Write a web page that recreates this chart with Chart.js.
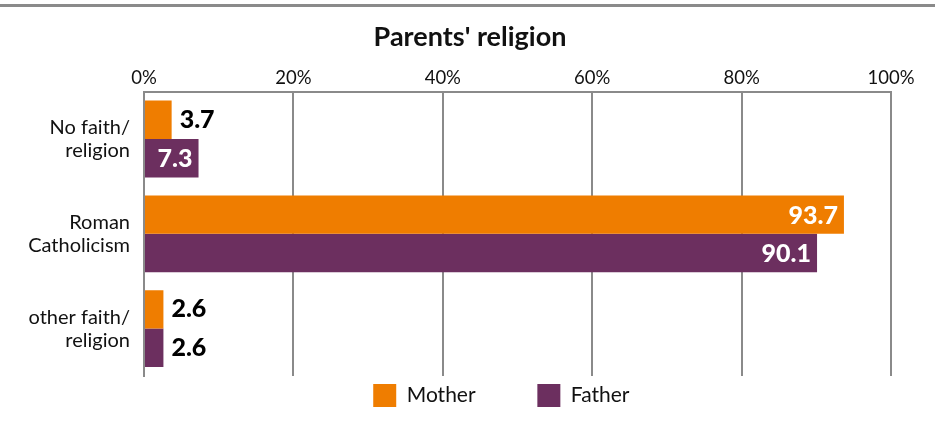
<!DOCTYPE html>
<html>
<head>
<meta charset="utf-8">
<script src="https://cdn.jsdelivr.net/npm/chart.js@4.4.0/dist/chart.umd.min.js"></script>
<style>
  html, body { margin: 0; padding: 0; background: #fff; }
  #wrap { position: relative; width: 935px; height: 422px; }
  #topLine { position: absolute; left: 0; top: 4px; width: 935px; height: 3px; background: #8a8a8a; }
  canvas { position: absolute; left: 0; top: 0; }
</style>
</head>
<body>
<div id="wrap">
  <div id="topLine"></div>
  <canvas id="chart" width="935" height="422"></canvas>
</div>
<script>
const categories = [['No faith/', 'religion'], ['Roman', 'Catholicism'], ['other faith/', 'religion']];
const motherValues = [3.7, 93.7, 2.6];
const fatherValues = [7.3, 90.1, 2.6];
const seriesNames = ['Mother', 'Father'];
const ORANGE = '#EF7D00';
const PURPLE = '#6C2F5F';

// value labels: white inside the bar end when it fits, black just outside otherwise
const valueLabels = {
    id: 'valueLabels',
    afterDatasetsDraw(chart) {
        const ctx = chart.ctx;
        ctx.save();
        ctx.font = '900 25px Lato';
        ctx.textBaseline = 'middle';
        chart.data.datasets.forEach((ds, i) => {
            const meta = chart.getDatasetMeta(i);
            meta.data.forEach((bar, j) => {
                const txt = ds.data[j].toFixed(1);
                const w = ctx.measureText(txt).width;
                if (bar.x - bar.base > w + 12) {
                    ctx.fillStyle = '#fff';
                    ctx.textAlign = 'right';
                    ctx.fillText(txt, bar.x - 6, bar.y + 1);
                } else {
                    ctx.fillStyle = '#000';
                    ctx.textAlign = 'left';
                    ctx.fillText(txt, bar.x + 8, bar.y);
                }
            });
        });
        ctx.restore();
    }
};

// legend: spaces widen the gap between the two entries
const legendGap = '          ';

new Chart(document.getElementById('chart').getContext('2d'), {
    type: 'bar',
    data: {
        labels: categories,
        datasets: [
            { label: seriesNames[0] + legendGap, data: motherValues, backgroundColor: ORANGE, borderWidth: 0 },
            { label: seriesNames[1] + '      ', data: fatherValues, backgroundColor: PURPLE, borderWidth: 0 }
        ]
    },
    options: {
        indexAxis: 'y',
        responsive: false,
        animation: false,
        layout: { padding: { top: 14, right: 0, left: 5, bottom: 5 } },
        plugins: {
            title: {
                display: true,
                text: "Parents' religion",
                color: '#111',
                font: { family: 'Lato', size: 27, weight: 'bold' },
                padding: { top: 7, bottom: 12 }
            },
            legend: {
                position: 'bottom',
                fullSize: false,
                labels: {
                    color: '#111',
                    font: { family: 'Lato', size: 21 },
                    boxWidth: 23,
                    boxHeight: 23,
                    padding: 8
                }
            },
            tooltip: { enabled: false }
        },
        datasets: { bar: { categoryPercentage: 0.81, barPercentage: 1.0 } },
        scales: {
            x: {
                position: 'top',
                min: 0,
                max: 100,
                ticks: {
                    stepSize: 20,
                    color: '#111',
                    padding: 2,
                    font: { family: 'Lato', size: 18.5 },
                    callback: v => v + '%'
                },
                grid: { color: '#8a8a8a', lineWidth: 2, drawTicks: false, tickLength: 0 },
                border: { color: '#8a8a8a', width: 2 }
            },
            y: {
                afterFit: s => { s.width = 139; },
                ticks: {
                    color: '#111',
                    padding: 14,
                    font: { family: 'Lato', size: 20, lineHeight: 1.15 }
                },
                grid: { display: false, drawTicks: false },
                border: { color: '#8a8a8a', width: 2 }
            },
            // empty right-hand strip, keeps the plot narrower than the title band
            yPad: {
                type: 'category',
                position: 'right',
                afterFit: s => { s.width = 44; },
                ticks: { display: false },
                grid: { display: false, drawTicks: false },
                border: { display: false }
            }
        }
    },
    plugins: [valueLabels]
});
</script>
</body>
</html>
